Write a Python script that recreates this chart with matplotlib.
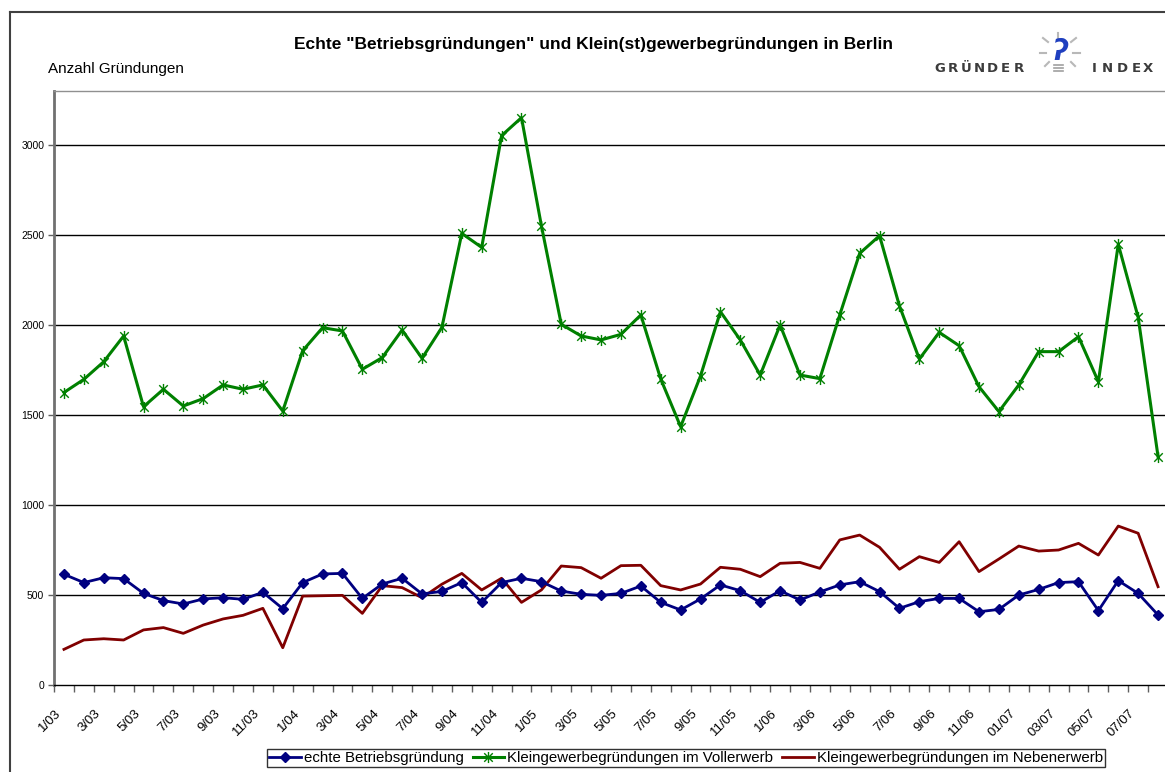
import matplotlib
matplotlib.use('Agg')
import matplotlib.pyplot as plt
from matplotlib.lines import Line2D
from matplotlib.path import Path
from matplotlib.transforms import ScaledTranslation
import numpy as np

plt.rcParams['font.family'] = ['Liberation Sans', 'DejaVu Sans']

# monthly values 1/03 .. 8/07
echte = [615, 569, 596, 591, 509, 469, 450, 478, 485, 476,
         515, 424, 569, 617, 620, 481, 561, 593, 506, 520,
         569, 459, 569, 593, 574, 522, 504, 498, 509, 550,
         459, 417, 478, 556, 524, 459, 524, 472, 517, 556,
         574, 519, 426, 463, 481, 481, 407, 420, 500, 531,
         569, 574, 413, 580, 509, 389]
voll = [1625, 1698, 1796, 1939, 1546, 1643, 1550, 1591, 1667, 1643,
        1667, 1522, 1857, 1985, 1967, 1754, 1819, 1972, 1815, 1987,
        2509, 2431, 3052, 3152, 2552, 2004, 1939, 1917, 1948, 2056,
        1700, 1435, 1717, 2074, 1917, 1722, 2000, 1722, 1702, 2056,
        2398, 2496, 2106, 1811, 1959, 1885, 1657, 1519, 1667, 1852,
        1852, 1935, 1685, 2448, 2043, 1269]
neben = [198, 250, 257, 250, 306, 319, 287, 333, 367, 387,
         426, 207, 494, 496, 498, 398, 552, 541, 485, 560,
         620, 528, 593, 459, 528, 661, 652, 593, 663, 665,
         552, 528, 561, 654, 643, 602, 676, 681, 648, 806,
         833, 765, 643, 713, 681, 796, 630, 700, 772, 744,
         750, 787, 722, 883, 843, 546]
tick_labels = ['1/03', '3/03', '5/03', '7/03', '9/03', '11/03',
               '1/04', '3/04', '5/04', '7/04', '9/04', '11/04',
               '1/05', '3/05', '5/05', '7/05', '9/05', '11/05',
               '1/06', '3/06', '5/06', '7/06', '9/06', '11/06',
               '01/07', '03/07', '05/07', '07/07']
series_names = ['echte Betriebsgründung',
                'Kleingewerbegründungen im Vollerwerb',
                'Kleingewerbegründungen im Nebenerwerb']

W, H = 1165, 772
def fx(px):
    return px / W
def fy(py):
    return 1 - py / H

fig = plt.figure(figsize=(W / 100, H / 100), dpi=100)

# outer chart border
fig.add_artist(Line2D([fx(10), fx(10)], [fy(12), 0], color='#404040', lw=1.5))
fig.add_artist(Line2D([fx(10), 1], [fy(12), fy(12)], color='#404040', lw=1.5))

ax = fig.add_axes([fx(54), fy(685), (1168 - 54) / W, (685 - 91) / H])

# star marker: x plus vertical bar
star = Path([(-1, -1), (1, 1), (-1, 1), (1, -1), (0, -1.3), (0, 1.3)],
            [Path.MOVETO, Path.LINETO, Path.MOVETO, Path.LINETO, Path.MOVETO, Path.LINETO])

x = np.arange(len(echte))
ax.plot(x, neben, color='#800000', lw=2, zorder=3, label=series_names[2])
ax.plot(x, echte, color='#000080', lw=2, marker='D', markersize=5.5,
        zorder=4, label=series_names[0])
ax.plot(x, voll, color='#008000', lw=2.2, marker=star, markersize=8,
        markerfacecolor='none', markeredgewidth=1, zorder=4, label=series_names[1])

ax.set_xlim(-0.5, len(echte) - 0.5)
ax.set_ylim(0, 3300)
ax.set_yticks(np.arange(0, 3001, 500))
for v in np.arange(500, 3001, 500):
    ax.axhline(v, color='black', lw=1, zorder=1)

ax.tick_params(axis='y', direction='out', length=4, width=1, colors='#606060',
               labelcolor='black', labelsize=7.5, pad=3)
ax.set_xticks(np.arange(0, len(echte), 2))
ax.set_xticklabels(tick_labels, rotation=45, ha='right', va='center',
                   rotation_mode='anchor', fontsize=9.5)
ax.tick_params(axis='x', which='major', length=0, pad=19)
ax.set_xticks(np.arange(-0.5, len(echte), 1), minor=True)
ax.tick_params(axis='x', which='minor', direction='out', length=5, width=1, color='#606060')
shift = ScaledTranslation(-5 / 100, 0, fig.dpi_scale_trans)
for lab in ax.get_xticklabels():
    lab.set_transform(lab.get_transform() + shift)

ax.spines['right'].set_visible(False)
ax.spines['top'].set_color('#909090')
ax.spines['top'].set_linewidth(1)
ax.spines['left'].set_color('#707070')
ax.spines['left'].set_linewidth(2)
ax.spines['bottom'].set_color('black')
ax.spines['bottom'].set_linewidth(1)

fig.text(fx(594), fy(44), 'Echte "Betriebsgründungen" und Klein(st)gewerbegründungen in Berlin',
         ha='center', va='center', fontsize=12.5, weight='bold')
fig.text(fx(48), fy(69), 'Anzahl Gründungen', ha='left', va='center', fontsize=11)

# logo
for ch, px in zip('GRÜNDER', [940, 952.5, 966, 979, 992.5, 1005.5, 1018.5]):
    fig.text(fx(px), fy(68), ch, ha='center', va='center', fontsize=9.5,
             weight='bold', color='#3c3c3c', family='DejaVu Sans')
for ch, px in zip('INDEX', [1094, 1107, 1122, 1136, 1148]):
    fig.text(fx(px), fy(68), ch, ha='center', va='center', fontsize=9.5,
             weight='bold', color='#3c3c3c', family='DejaVu Sans')
rays = [((1058, 33), (1058, 39)), ((1043, 38), (1048, 42)), ((1071, 42), (1076, 38)),
        ((1040, 53), (1046, 53)), ((1073, 53), (1080, 53)), ((1049, 62), (1045, 66)),
        ((1071, 62), (1075, 66))]
for (x0, y0), (x1, y1) in rays:
    fig.add_artist(Line2D([fx(x0), fx(x1)], [fy(y0), fy(y1)], color='#b8b8b8', lw=1.5))
for yy in [65, 68, 71]:
    fig.add_artist(Line2D([fx(1054), fx(1063)], [fy(yy), fy(yy)], color='#a0a0a0', lw=1.2))
fig.text(fx(1060), fy(52), 'ʔ', ha='center', va='center', fontsize=20, weight='bold',
         style='italic', color='#1f3fbf', family='DejaVu Sans')

leg = fig.legend(handles=[ax.lines[1], ax.lines[2], ax.lines[0]],
                 labels=series_names, loc='center', bbox_to_anchor=(fx(686), fy(758)),
                 ncol=3, fontsize=10.8, frameon=True, fancybox=False, edgecolor='black',
                 borderpad=0.15, handlelength=2.1, handletextpad=0.2, columnspacing=0.6,
                 borderaxespad=0)
leg.get_frame().set_linewidth(1)

fig.savefig('out.png', dpi=100)
